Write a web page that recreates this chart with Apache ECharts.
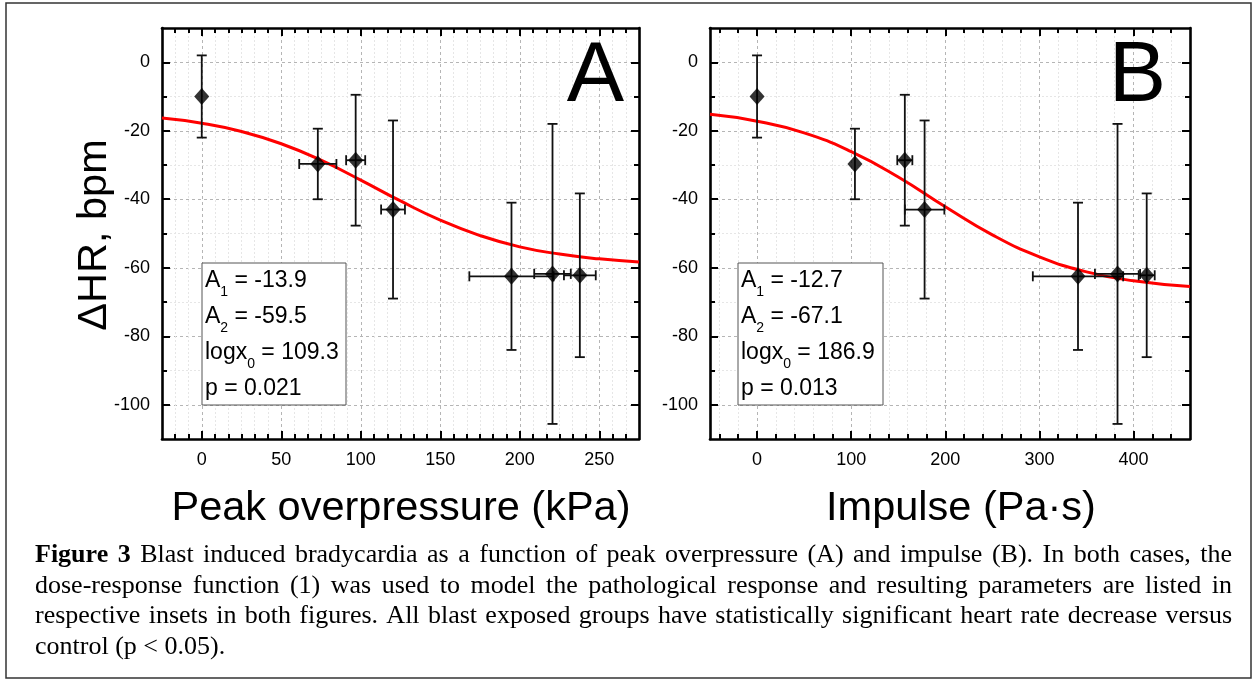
<!DOCTYPE html>
<html><head><meta charset="utf-8">
<script src="https://cdn.jsdelivr.net/npm/echarts@6/dist/echarts.min.js"></script>
<style>html,body{margin:0;padding:0;background:#fff}#c{width:1254px;height:681px}</style>
</head><body><div id="c"></div>
<script>
// ---------- data ----------
const groupY      = [-10, -29.7, -28.6, -43.0, -62.5, -61.8, -62.2];
const groupYErr   = [12, 10.3, 19.1, 26, 21.5, 43.8, 23.9];
const peakX       = [0, 73, 96.8, 120.3, 194.8, 220.6, 237.8];
const peakXErr    = [0, 11.7, 6, 7.5, 26.5, 11.5, 10];
const impulseX    = [0, 104, 157, 178, 341, 383, 414];
const impulseXErr = [0, 0, 8, 21, 48, 24, 8.5];

const peakFitX    = [-25, 0, 25, 50, 75, 100, 125, 150, 175, 200, 225, 250, 275];
const peakFitY    = [-16.3, -17.8, -20.2, -23.8, -28.6, -34.4, -40.5, -46.1, -50.6, -53.9, -56.0, -57.4, -58.3];
const impulseFitX = [-50, 0, 50, 100, 150, 200, 250, 300, 350, 400, 460];
const impulseFitY = [-15.2, -17.2, -20.6, -26.1, -33.5, -42.2, -50.4, -56.8, -61.2, -63.8, -65.5];

const peakTicks    = [0, 50, 100, 150, 200, 250];
const impulseTicks = [0, 100, 200, 300, 400];
const yTicks       = [-100, -80, -60, -40, -20, 0];

const insetA = [['A', '1', ' = -13.9'], ['A', '2', ' = -59.5'], ['logx', '0', ' = 109.3'], ['p = 0.021', '', '']];
const insetB = [['A', '1', ' = -12.7'], ['A', '2', ' = -67.1'], ['logx', '0', ' = 186.9'], ['p = 0.013', '', '']];

const captionLines = [
  'Figure 3 Blast induced bradycardia as a function of peak overpressure (A) and impulse (B). In both cases, the',
  'dose-response function (1) was used to model the pathological response and resulting parameters are listed in',
  'respective insets in both figures. All blast exposed groups have statistically significant heart rate decrease versus',
  'control (p < 0.05).'
];
const captionBoldWords = 2;

// ---------- helpers ----------
const SANS = "'Liberation Sans', Arial, sans-serif";
const SERIF = "'Liberation Serif', 'Times New Roman', serif";

function minorList(lo, hi, step, majorStep) {
  const out = [];
  for (let k = Math.ceil(lo / step); k * step <= hi + 1e-9; k++) {
    const v = k * step;
    if (Math.abs(v - lo) < 1e-6 || Math.abs(v - hi) < 1e-6) continue;
    const r = v / majorStep;
    if (Math.abs(r - Math.round(r)) < 1e-6) continue;
    out.push(+v.toFixed(4));
  }
  return out;
}

const A_MIN = -25, A_MAX = 275, B_MIN = -50, B_MAX = 460, Y_MIN = -110, Y_MAX = 10;
const peakMinor = minorList(A_MIN, A_MAX, 50 / 6, 50);
const impulseMinor = minorList(B_MIN, B_MAX, 20, 100);
const yMinor = minorList(Y_MIN, Y_MAX, 10, 20);

const gridA = { left: 162, top: 28, width: 477, height: 411 };
const gridB = { left: 710, top: 28, width: 480, height: 411 };

function xAxes(gridMajor, gridMinor, min, max, ticks, minor) {
  const base = { type: 'value', min, max, axisLine: { onZero: false } };
  return [
    Object.assign({}, base, { gridIndex: gridMajor, position: 'bottom',
      axisLine: { show: true, onZero: false, lineStyle: { color: '#000', width: 2.6 } },
      axisTick: { show: true, inside: true, length: 8, customValues: ticks, lineStyle: { color: '#000', width: 2 } },
      axisLabel: { show: true, customValues: ticks, margin: 12, color: '#000', fontSize: 18, fontFamily: SANS },
      splitLine: { show: true, lineStyle: { color: '#b5b5b5', width: 1, type: [3, 3] } } }),
    Object.assign({}, base, { gridIndex: gridMajor, position: 'top',
      axisLine: { show: true, onZero: false, lineStyle: { color: '#000', width: 2.6 } },
      axisTick: { show: true, inside: true, length: 8, customValues: ticks, lineStyle: { color: '#000', width: 2 } },
      axisLabel: { show: false }, splitLine: { show: false } }),
    Object.assign({}, base, { gridIndex: gridMinor, position: 'bottom',
      axisLine: { show: false, onZero: false },
      axisTick: { show: true, inside: true, length: 5, customValues: minor, lineStyle: { color: '#000', width: 2 } },
      axisLabel: { show: false },
      splitLine: { show: true, lineStyle: { color: '#e6e6e6', width: 1, type: [2, 2] } } }),
    Object.assign({}, base, { gridIndex: gridMinor, position: 'top',
      axisLine: { show: false, onZero: false },
      axisTick: { show: true, inside: true, length: 5, customValues: minor, lineStyle: { color: '#000', width: 2 } },
      axisLabel: { show: false }, splitLine: { show: false } })
  ];
}
function yAxes(gridMajor, gridMinor) {
  const base = { type: 'value', min: Y_MIN, max: Y_MAX, axisLine: { onZero: false } };
  return [
    Object.assign({}, base, { gridIndex: gridMajor, position: 'left',
      axisLine: { show: true, onZero: false, lineStyle: { color: '#000', width: 2.6 } },
      axisTick: { show: true, inside: true, length: 8, customValues: yTicks, lineStyle: { color: '#000', width: 2 } },
      axisLabel: { show: true, customValues: yTicks, margin: 12, color: '#000', fontSize: 18, fontFamily: SANS },
      splitLine: { show: true, lineStyle: { color: '#b5b5b5', width: 1, type: [3, 3] } } }),
    Object.assign({}, base, { gridIndex: gridMajor, position: 'right',
      axisLine: { show: true, onZero: false, lineStyle: { color: '#000', width: 2.6 } },
      axisTick: { show: true, inside: true, length: 8, customValues: yTicks, lineStyle: { color: '#000', width: 2 } },
      axisLabel: { show: false }, splitLine: { show: false } }),
    Object.assign({}, base, { gridIndex: gridMinor, position: 'left',
      axisLine: { show: false, onZero: false },
      axisTick: { show: true, inside: true, length: 5, customValues: yMinor, lineStyle: { color: '#000', width: 2 } },
      axisLabel: { show: false },
      splitLine: { show: true, lineStyle: { color: '#e6e6e6', width: 1, type: [2, 2] } } }),
    Object.assign({}, base, { gridIndex: gridMinor, position: 'right',
      axisLine: { show: false, onZero: false },
      axisTick: { show: true, inside: true, length: 5, customValues: yMinor, lineStyle: { color: '#000', width: 2 } },
      axisLabel: { show: false }, splitLine: { show: false } })
  ];
}

function errorBarItem(params, api) {
  const x = api.value(0), y = api.value(1), xe = api.value(2), ye = api.value(3);
  const t = api.coord([x, y + ye]);
  const b = api.coord([x, y - ye]);
  const style = { stroke: '#111', lineWidth: 1.8, fill: null };
  const cap = 5;
  const ch = [
    { type: 'line', shape: { x1: t[0], y1: t[1], x2: b[0], y2: b[1] }, style },
    { type: 'line', shape: { x1: t[0] - cap, y1: t[1], x2: t[0] + cap, y2: t[1] }, style },
    { type: 'line', shape: { x1: b[0] - cap, y1: b[1], x2: b[0] + cap, y2: b[1] }, style }
  ];
  if (xe > 0) {
    const l = api.coord([x - xe, y]), r = api.coord([x + xe, y]);
    ch.push({ type: 'line', shape: { x1: l[0], y1: l[1], x2: r[0], y2: r[1] }, style });
    ch.push({ type: 'line', shape: { x1: l[0], y1: l[1] - cap, x2: l[0], y2: l[1] + cap }, style });
    ch.push({ type: 'line', shape: { x1: r[0], y1: r[1] - cap, x2: r[0], y2: r[1] + cap }, style });
  }
  return { type: 'group', children: ch };
}

function panelSeries(xs, xerrs, fitX, fitY, axisIdx) {
  return [
    { type: 'line', xAxisIndex: axisIdx, yAxisIndex: axisIdx, smooth: true, showSymbol: false, silent: true,
      lineStyle: { color: '#ff0000', width: 3 }, z: 3,
      data: fitX.map((x, i) => [x, fitY[i]]) },
    { type: 'custom', xAxisIndex: axisIdx, yAxisIndex: axisIdx, renderItem: errorBarItem, z: 4, silent: true,
      encode: { x: 0, y: 1 },
      data: xs.map((x, i) => [x, groupY[i], xerrs[i], groupYErr[i]]) },
    { type: 'scatter', xAxisIndex: axisIdx, yAxisIndex: axisIdx, symbol: 'diamond', symbolSize: [15, 17], z: 5,
      itemStyle: { color: '#000' }, silent: true,
      data: xs.map((x, i) => [x, groupY[i]]) }
  ];
}

function insetGraphics(box, textX, lines) {
  const s = lines.map(l => '{m|' + l[0] + '}' + (l[1] ? '{s|' + l[1] + '}' : '') + (l[2] ? '{m|' + l[2] + '}' : '')).join('\n');
  return [
    { type: 'rect', shape: box, style: { fill: '#fff', stroke: '#555', lineWidth: 1 }, z: 50 },
    { type: 'text', x: textX, y: box.y, z: 51,
      style: { text: s, fill: '#000', align: 'left', verticalAlign: 'top',
        rich: { m: { fontSize: 23, fontFamily: SANS, lineHeight: 36, fill: '#000' },
                s: { fontSize: 14, fontFamily: SANS, lineHeight: 16, verticalAlign: 'bottom', fill: '#000' } } } }
  ];
}

function captionGraphics() {
  const out = [];
  const canvas = document.createElement('canvas');
  const ctx = canvas.getContext('2d');
  const fs = 26, left = 35, right = 1232, y0 = 555, lh = 30.7;
  captionLines.forEach((line, li) => {
    const words = line.split(' ');
    const fonts = words.map((w, wi) => (li === 0 && wi < captionBoldWords ? 'bold ' : '') + fs + 'px ' + SERIF);
    const widths = words.map((w, wi) => { ctx.font = fonts[wi]; return ctx.measureText(w).width; });
    ctx.font = fs + 'px ' + SERIF;
    const space = ctx.measureText(' ').width;
    const total = widths.reduce((a, b) => a + b, 0);
    const justify = li < captionLines.length - 1;
    const gap = justify ? (right - left - total) / (words.length - 1) : space;
    let x = left;
    words.forEach((w, wi) => {
      out.push({ type: 'text', x: x, y: y0 + li * lh, z: 60,
        style: { text: w, font: fonts[wi], fill: '#000', align: 'left', verticalAlign: 'middle' } });
      x += widths[wi] + gap;
    });
  });
  return out;
}

const chart = echarts.init(document.getElementById('c'), null, { renderer: 'canvas' });
const option = {
  animation: false,
  backgroundColor: '#fff',
  grid: [
    Object.assign({ outerBoundsMode: 'none', containLabel: false }, gridA),
    Object.assign({ outerBoundsMode: 'none', containLabel: false }, gridA),
    Object.assign({ outerBoundsMode: 'none', containLabel: false }, gridB),
    Object.assign({ outerBoundsMode: 'none', containLabel: false }, gridB)
  ],
  xAxis: [].concat(xAxes(0, 1, A_MIN, A_MAX, peakTicks, peakMinor), xAxes(2, 3, B_MIN, B_MAX, impulseTicks, impulseMinor)),
  yAxis: [].concat(yAxes(0, 1), yAxes(2, 3)),
  series: [].concat(
    panelSeries(peakX, peakXErr, peakFitX, peakFitY, 0),
    panelSeries(impulseX, impulseXErr, impulseFitX, impulseFitY, 4)
  ),
  graphic: { elements: [].concat(
    [{ type: 'rect', shape: { x: 6, y: 3, width: 1245, height: 675 }, style: { fill: null, stroke: '#333', lineWidth: 1.5 }, z: 0 }],
    [{ type: 'text', x: 95, y: 235, rotation: Math.PI / 2, z: 60,
       style: { text: 'ΔHR, bpm', fontSize: 41.5, fontFamily: SANS, fill: '#000', align: 'center', verticalAlign: 'middle' } },
     { type: 'text', x: 401, y: 509, z: 60,
       style: { text: 'Peak overpressure (kPa)', fontSize: 41.5, fontFamily: SANS, fill: '#000', align: 'center', verticalAlign: 'middle' } },
     { type: 'text', x: 961, y: 509, z: 60,
       style: { text: 'Impulse (Pa·s)', fontSize: 41.5, fontFamily: SANS, fill: '#000', align: 'center', verticalAlign: 'middle' } },
     { type: 'text', x: 624, y: 77, z: 60,
       style: { text: 'A', fontSize: 86, fontFamily: SANS, fill: '#000', align: 'right', verticalAlign: 'middle' } },
     { type: 'text', x: 1166, y: 77, z: 60,
       style: { text: 'B', fontSize: 86, fontFamily: SANS, fill: '#000', align: 'right', verticalAlign: 'middle' } }],
    insetGraphics({ x: 202, y: 263, width: 144, height: 142 }, 205, insetA),
    insetGraphics({ x: 738, y: 263, width: 145, height: 142 }, 741, insetB),
    captionGraphics()
  ) }
};
chart.setOption(option);
</script>
</body></html>
